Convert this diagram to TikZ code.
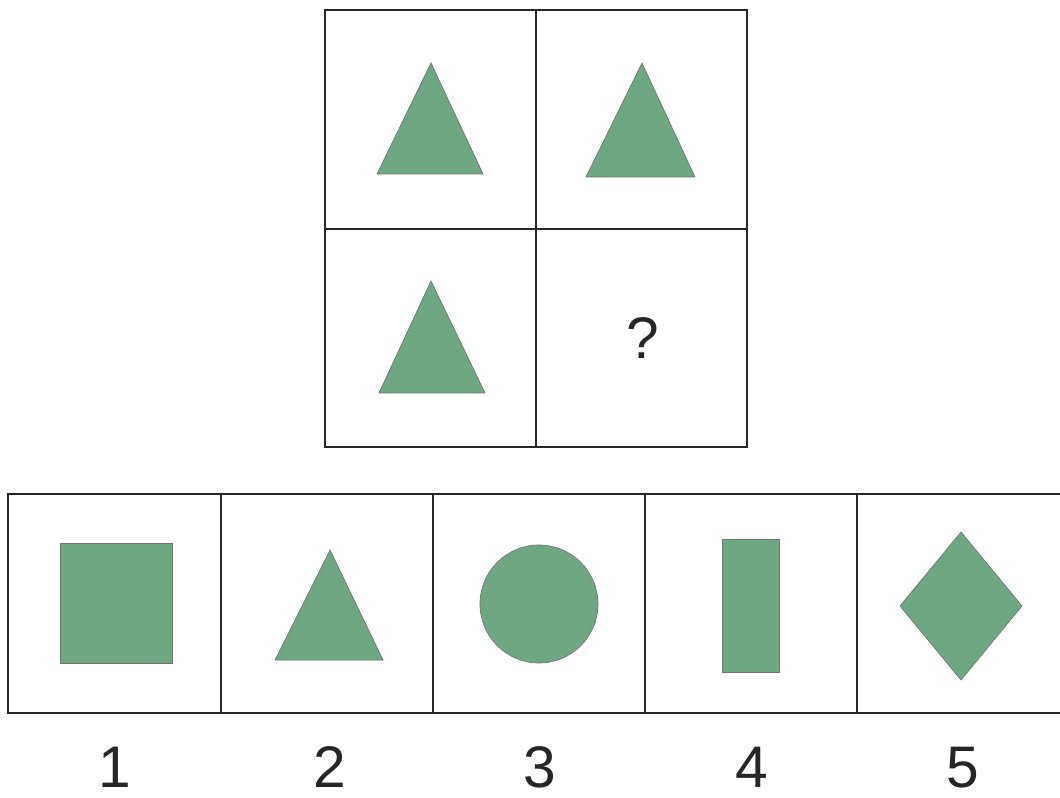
\documentclass[tikz,border=0pt]{standalone}
\usepackage{fontspec}
\setmainfont{Liberation Sans}
\begin{document}
\begin{tikzpicture}[x=0.75pt,y=-0.75pt,
  frame/.style={draw=black!85,line width=1.6pt},
  shp/.style={fill=shapegreen,draw=black!55,line width=0.5pt},
  lbl/.style={font=\fontsize{44}{44}\selectfont,text=black!85,inner sep=0pt,anchor=base}]
\definecolor{shapegreen}{RGB}{110,168,130}
\useasboundingbox (0,0) rectangle (1060,798);
\clip (0,0) rectangle (1060,798);
\fill[white] (0,0) rectangle (1060,798);
% top 2x2 grid
\draw[frame] (325,10) rectangle (747,447);
\draw[frame] (536,10) -- (536,447);
\draw[frame] (325,229) -- (747,229);
\draw[shp] (431,63) -- (483,174) -- (377,174) -- cycle;
\draw[shp] (642,63) -- (695,177) -- (586,177) -- cycle;
\draw[shp] (431,281) -- (485,393) -- (379,393) -- cycle;
\node[lbl] (q) at (643,359) {?};
% bottom row of answers
\draw[frame] (8,494) rectangle (1066,713);
\foreach \x in {221,433,645,857} \draw[frame] (\x,494) -- (\x,713);
\draw[shp] (60,543) rectangle (172,663);
\draw[shp] (330,550) -- (383,660) -- (275,660) -- cycle;
\draw[shp] (539,604) circle [radius=59];
\draw[shp] (722,539) rectangle (779,672);
\draw[shp] (961,532) -- (1022,606) -- (961,680) -- (900,606) -- cycle;
\node[lbl] (l1) at (115,787) {1};
\node[lbl] (l2) at (330,787) {2};
\node[lbl] (l3) at (540,787) {3};
\node[lbl] (l4) at (752,787) {4};
\node[lbl] (l5) at (963,787) {5};
\end{tikzpicture}
\end{document}
